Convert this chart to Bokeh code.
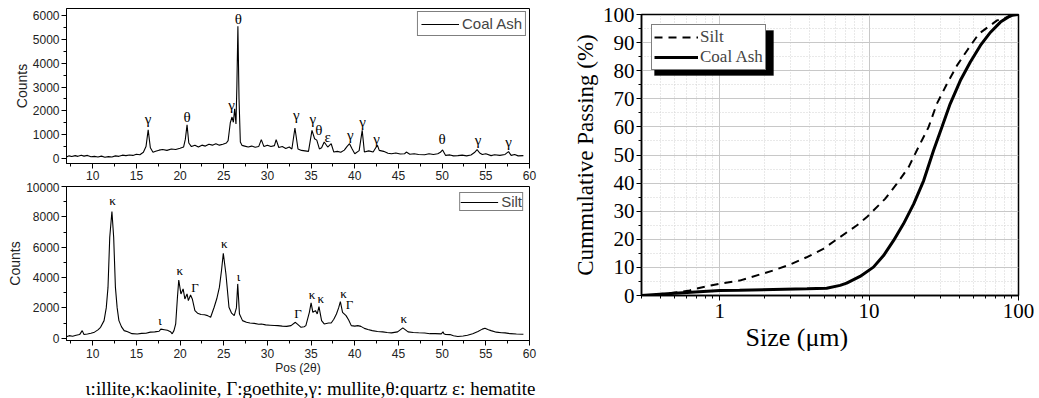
from bokeh.plotting import figure
from bokeh.layouts import row, column
from bokeh.models import (Range1d, SingleIntervalTicker, Legend, LegendItem, Title,
                          BoxAnnotation, FixedTicker, PrintfTickFormatter)
from bokeh.core.properties import value
from bokeh.embed import file_html
from bokeh.resources import INLINE

# ---------------- data: XRD coal ash ----------------
coal_2theta = [7.0, 7.3, 7.6, 8.0, 8.3, 8.7, 9.0, 9.4, 9.8, 10.2, 10.6, 11.0, 11.4, 11.8, 12.2, 12.6,
               13.0, 13.4, 13.8, 14.2, 14.6, 15.0, 15.4, 15.8, 16.1, 16.35, 16.6, 16.9, 17.2, 17.6,
               18.0, 18.5, 19.0, 19.5, 20.0, 20.4, 20.6, 20.8, 21.0, 21.3, 21.7, 22.1, 22.5, 22.9,
               23.3, 23.7, 24.1, 24.5, 24.9, 25.3, 25.5, 25.75, 25.95, 26.1, 26.25, 26.4, 26.5,
               26.62, 26.75, 26.9, 27.1, 27.4, 27.8, 28.2, 28.6, 29.0, 29.3, 29.6, 30.0, 30.4, 30.8,
               31.0, 31.3, 31.7, 32.1, 32.5, 32.8, 33.15, 33.5, 33.9, 34.3, 34.7, 35.1, 35.4, 35.65,
               35.95, 36.2, 36.5, 36.9, 37.3, 37.6, 38.0, 38.4, 38.8, 39.1, 39.4, 39.7, 40.0, 40.5,
               40.85, 41.1, 41.6, 42.1, 42.4, 42.6, 42.8, 43.3, 43.8, 44.2, 44.7, 45.2, 45.7, 45.9,
               46.3, 46.8, 47.3, 48.0, 48.5, 49.0, 49.5, 49.8, 50.05, 50.4, 50.9, 51.3, 51.8, 52.3,
               52.8, 53.3, 53.7, 54.0, 54.3, 54.6, 55.0, 55.6, 56.0, 56.6, 57.2, 57.6, 57.9, 58.3,
               58.7, 59.3]
coal_counts = [60, 110, 80, 120, 90, 140, 100, 130, 70, 90, 60, 100, 50, 80, 60, 110,
               90, 140, 120, 150, 130, 180, 160, 260, 500, 1200, 450, 260, 300, 350,
               380, 340, 400, 380, 430, 480, 800, 1410, 650, 500, 560, 480, 560, 520,
               600, 560, 620, 560, 600, 650, 750, 1500, 1740, 1520, 2090, 1450, 3000,
               5550, 2500, 690, 550, 520, 480, 520, 470, 500, 790, 500, 560, 500, 540,
               790, 460, 500, 420, 480, 400, 1280, 400, 340, 320, 300, 1180, 830, 770,
               400, 450, 690, 480, 620, 270, 300, 260, 350, 500, 620, 400, 200, 330,
               1180, 270, 320, 270, 450, 550, 340, 300, 220, 200, 230, 190, 200, 270,
               180, 200, 170, 160, 200, 170, 200, 260, 360, 130, 150, 110, 120, 140,
               110, 150, 250, 370, 230, 170, 200, 120, 160, 130, 170, 290, 130, 170,
               110, 120]
coal_lab_x = [16.35, 20.8, 25.9, 26.66, 33.3, 35.2, 35.9, 36.9, 39.5, 40.9, 42.5, 50.0, 54.1, 57.6]
coal_lab_y = [1670, 1760, 2230, 5870, 1810, 1670, 1180, 900, 970, 1530, 830, 830, 760, 690]
coal_lab_t = ["γ", "θ", "γ", "θ", "γ", "γ", "θ", "ε", "γ", "γ", "γ", "θ", "γ", "γ"]

# ---------------- data: XRD silt ----------------
silt_2theta = [7.0, 7.3, 7.7, 8.1, 8.5, 8.8, 9.0, 9.4, 9.8, 10.2, 10.6, 10.9, 11.3, 11.55, 11.75,
               11.95, 12.2, 12.4, 12.6, 12.8, 13.0, 13.3, 13.6, 14.0, 14.5, 15.1, 15.6, 16.1, 16.6,
               17.1, 17.6, 17.8, 18.2, 18.55, 18.9, 19.1, 19.3, 19.5, 19.7, 19.85, 20.1, 20.35,
               20.55, 20.8, 20.95, 21.2, 21.4, 21.7, 22.0, 22.4, 22.8, 23.15, 23.5, 23.9, 24.2,
               24.5, 24.75, 24.95, 25.25, 25.6, 25.9, 26.2, 26.45, 26.6, 26.8, 27.15, 27.6, 28.0,
               28.5, 29.0, 29.3, 29.8, 30.3, 30.8, 31.2, 31.7, 32.2, 32.7, 33.2, 33.5, 33.85, 34.2,
               34.4, 34.8, 35.0, 35.2, 35.5, 35.7, 35.9, 36.2, 36.5, 37.0, 37.3, 37.6, 37.9, 38.15,
               38.35, 38.6, 39.0, 39.3, 39.6, 40.0, 40.35, 40.7, 41.1, 41.5, 42.0, 42.6, 43.2, 43.7,
               44.2, 44.9, 45.5, 46.1, 46.7, 47.3, 48.0, 48.6, 49.2, 49.9, 50.1, 50.2, 50.4, 50.9,
               51.3, 51.8, 52.4, 52.9, 53.5, 54.1, 54.6, 54.9, 55.3, 55.6, 56.2, 56.8, 57.2, 57.8,
               58.5, 59.3]
silt_counts = [100, 170, 130, 200, 240, 500, 240, 280, 330, 400, 550, 720, 1160, 2000, 3350,
               6650, 8350, 6650, 3350, 2000, 1160, 750, 500, 420, 300, 280, 320, 330, 400,
               420, 460, 600, 560, 520, 430, 290, 500, 950, 2700, 3840, 2920, 3250,
               2590, 2920, 2480, 2850, 2590, 1820, 1650, 1560, 1550, 1490, 1380, 2040, 2600,
               3350, 4500, 5600, 4230, 2040, 1650, 1490, 2000, 3580, 1600, 1160, 1050, 1000,
               980, 920, 940, 880, 860, 840, 830, 800, 780, 830, 1050, 900, 720, 760,
               830, 1710, 2330, 1710, 1820, 1600, 2080, 1160, 940, 1000, 1000, 1250, 1600, 2000,
               2410, 1710, 1490, 1200, 830, 800, 830, 780, 650, 570, 500, 440, 420, 380,
               350, 420, 680, 420, 380, 360, 340, 300, 300, 285, 420, 300, 250, 240,
               160, 110, 150, 200, 300, 440, 600, 660, 560, 500, 400, 360, 350, 300,
               280, 260]
silt_lab_x = [12.26, 17.7, 19.97, 21.7, 25.05, 26.7, 33.5, 35.1, 36.1, 38.7, 39.4, 45.6]
silt_lab_y = [9060, 1160, 4450, 3360, 6250, 4060, 1650, 2870, 2630, 2920, 2190, 1270]
silt_lab_t = ["κ", "ι", "κ", "Γ", "κ", "ι", "Γ", "κ", "κ", "κ", "Γ", "κ"]

caption = "ι:illite,κ:kaolinite, Γ:goethite,γ: mullite,θ:quartz ε: hematite"

# ---------------- data: particle size ----------------
silt_size = [0.3, 0.4, 0.54, 0.63, 0.73, 1.0, 1.36, 2.28, 2.95, 3.82, 4.94, 6.4, 8.26, 9.67, 12.8,
             15.3, 18.4, 21.4, 25.0, 28.4, 33.2, 38.8, 45.3, 54.2, 71.9, 84.1, 100.0]
silt_pass = [0.0, 0.5, 1.2, 1.8, 2.7, 4.2, 5.3, 8.9, 11.0, 13.6, 16.6, 20.8, 24.9, 27.9, 34.4,
             39.7, 45.7, 52.8, 59.9, 68.2, 75.3, 81.9, 87.2, 93.1, 97.9, 99.0, 100.0]
ash_size = [0.3, 0.5, 1.0, 1.36, 3.84, 5.2, 6.4, 7.08, 8.7, 10.7, 12.5, 14.6, 17.0, 19.9, 23.2,
            27.0, 30.7, 34.9, 40.8, 47.5, 55.6, 65.0, 75.7, 88.3, 100.0]
ash_pass = [0.0, 0.8, 1.8, 1.9, 2.4, 2.6, 3.6, 4.4, 6.8, 10.1, 14.2, 19.6, 25.5, 32.6, 40.9,
            51.6, 59.9, 68.2, 76.5, 83.0, 89.0, 93.7, 97.3, 99.6, 100.0]
size_ticks = [1, 10, 100]
size_minor = [0.3, 0.4, 0.5, 0.6, 0.7, 0.8, 0.9, 2, 3, 4, 5, 6, 7, 8, 9,
              20, 30, 40, 50, 60, 70, 80, 90]

SANS = "Liberation Sans"
SERIF = "Liberation Serif"


def style_xrd(p, ymajor, yminor):
    p.outline_line_color = "black"
    p.outline_line_width = 1
    p.xgrid.visible = False
    p.ygrid.visible = False
    p.xaxis.ticker = SingleIntervalTicker(interval=5, num_minor_ticks=2)
    p.yaxis.ticker = SingleIntervalTicker(interval=ymajor, num_minor_ticks=yminor)
    for ax in (p.xaxis[0], p.yaxis[0]):
        ax.major_label_text_font = SANS
        ax.major_label_text_font_size = "12px"
        ax.major_label_text_color = "#222222"
        ax.axis_label_text_font = SANS
        ax.axis_label_text_font_style = "normal"
        ax.axis_label_text_color = "#222222"
        ax.major_tick_out = 5
        ax.major_tick_in = 0
        ax.minor_tick_out = 3
        ax.minor_tick_in = 0
        ax.axis_line_color = "black"
        ax.major_label_standoff = 2
    p.yaxis.axis_label = "Counts"
    p.yaxis.axis_label_text_font_size = "14px"
    p.yaxis.axis_label_standoff = 0


# ---------------- top-left: coal ash XRD ----------------
p1 = figure(frame_width=463, frame_height=155, output_backend="svg", toolbar_location=None,
            x_range=Range1d(7, 60), y_range=Range1d(-210, 6294),
            min_border_left=66, min_border_right=22, min_border_top=8, min_border_bottom=17)
style_xrd(p1, 1000, 2)
r1 = p1.line(coal_2theta, coal_counts, line_color="black", line_width=1.1)
p1.text(coal_lab_x, coal_lab_y, text=coal_lab_t, text_font=value(SERIF), text_font_size="15px",
        text_align="center", text_baseline="middle", text_color="black")
leg1 = Legend(items=[LegendItem(label="Coal Ash", renderers=[r1])], location="top_right",
              margin=3, padding=3, spacing=0, glyph_width=38, glyph_height=14,
              label_text_font=SANS, label_text_font_size="15px", label_standoff=3,
              border_line_color="black", border_line_width=1, label_height=14)
p1.add_layout(leg1)

# ---------------- bottom-left: silt XRD ----------------
p2 = figure(frame_width=463, frame_height=154, output_backend="svg", toolbar_location=None,
            x_range=Range1d(7, 60), y_range=Range1d(-150, 10000),
            min_border_left=66, min_border_right=22, min_border_top=4, min_border_bottom=56)
style_xrd(p2, 2000, 2)
p2.xaxis.axis_label = "Pos (2θ)"
p2.xaxis.axis_label_text_font_size = "12px"
p2.xaxis.axis_label_standoff = 0
p2.xaxis.major_label_standoff = 3
r2 = p2.line(silt_2theta, silt_counts, line_color="black", line_width=1.1)
p2.text(silt_lab_x, silt_lab_y, text=silt_lab_t, text_font=value(SERIF), text_font_size="13px",
        text_align="center", text_baseline="middle", text_color="black")
leg2 = Legend(items=[LegendItem(label="Silt", renderers=[r2])], location="top_right",
              margin=6, padding=0, spacing=0, glyph_width=38, glyph_height=12,
              label_text_font=SANS, label_text_font_size="15px", label_standoff=3,
              border_line_color="black", border_line_width=1, label_height=12)
p2.add_layout(leg2)
p2.add_layout(Title(text=caption, align="left", offset=19, standoff=0, text_font=SERIF,
                    text_font_size="19px", text_font_style="normal", text_color="black",
                    vertical_align="top", text_line_height=1.0),
              "below")

# ---------------- right: particle size distribution ----------------
p3 = figure(frame_width=377, frame_height=281, output_backend="svg", toolbar_location=None,
            x_axis_type="log", x_range=Range1d(0.3, 100), y_range=Range1d(0, 100),
            min_border_left=90, min_border_right=16, min_border_top=14, min_border_bottom=52)
p3.outline_line_color = "black"
p3.outline_line_width = 1.5
p3.yaxis.ticker = SingleIntervalTicker(interval=10, num_minor_ticks=2)
p3.xaxis.ticker = FixedTicker(ticks=size_ticks, minor_ticks=size_minor)
p3.xaxis.formatter = PrintfTickFormatter(format="%d")
for ax in (p3.xaxis[0], p3.yaxis[0]):
    ax.major_label_text_font = SERIF
    ax.major_label_text_font_size = "21px"
    ax.major_label_text_color = "black"
    ax.axis_label_text_font = SERIF
    ax.axis_label_text_font_style = "normal"
    ax.axis_label_text_color = "black"
    ax.major_tick_out = 5
    ax.major_tick_in = 0
    ax.minor_tick_out = 3
    ax.minor_tick_in = 0
    ax.axis_line_color = "black"
    ax.axis_line_width = 1.5
p3.xaxis.major_label_standoff = 3
p3.yaxis.axis_label = "Cummulative Passing (%)"
p3.yaxis.axis_label_text_font_size = "23px"
p3.yaxis.axis_label_standoff = 2
p3.yaxis.major_label_standoff = 2
p3.add_layout(Title(text="Size (μm)", align="left", offset=104, standoff=0, text_font=SERIF,
                    text_font_size="26px", text_font_style="normal", text_color="black"),
              "below")
for g in (p3.xgrid[0], p3.ygrid[0]):
    g.grid_line_color = "#c8c8c8"
    g.grid_line_width = 1
    g.minor_grid_line_color = "#d2d2d2"
    g.minor_grid_line_dash = "1 2"
    g.minor_grid_line_width = 1

rs = p3.line(silt_size, silt_pass, line_color="black", line_width=2, line_dash="8 6")
ra = p3.line(ash_size, ash_pass, line_color="black", line_width=3)
# legend drop shadow (canvas pixels; canvas starts 551 px from the page's left)
p3.add_layout(BoxAnnotation(left=103, right=222, top=30, bottom=75,
                            left_units="canvas", right_units="canvas",
                            top_units="canvas", bottom_units="canvas",
                            fill_color="black", fill_alpha=1, line_color="black",
                            level="overlay"))
leg3 = Legend(items=[LegendItem(label="Silt", renderers=[rs]),
                     LegendItem(label="Coal Ash", renderers=[ra])],
              location="top_left", margin=10, padding=2, spacing=0, glyph_width=44,
              glyph_height=20, label_height=20, label_standoff=2,
              label_text_font=SERIF, label_text_font_size="17px",
              border_line_color="black", border_line_width=1, background_fill_alpha=1,
              level="overlay")
p3.add_layout(leg3)

layout = row(column(p1, p2), p3)
open("out.html", "w").write(file_html(layout, INLINE))
